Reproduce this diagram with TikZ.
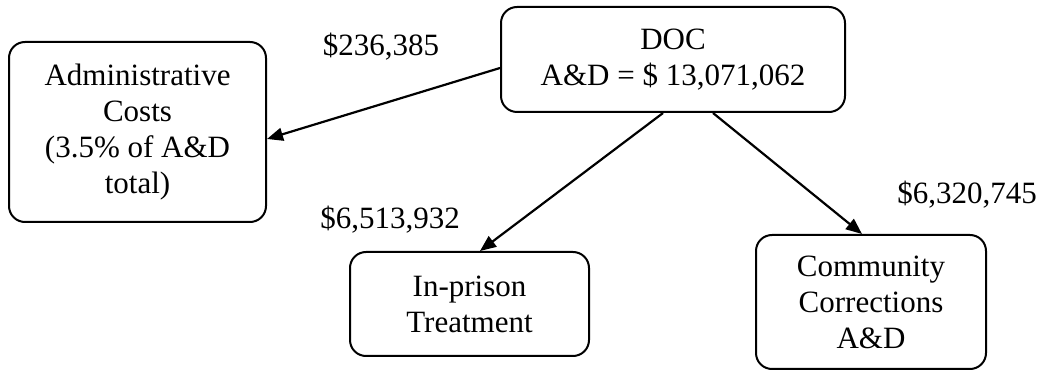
\documentclass[tikz,border=0pt]{standalone}
\usepackage{fontspec}
\setmainfont{Liberation Serif}
\usetikzlibrary{arrows.meta}
\begin{document}
\begin{tikzpicture}[x=1pt,y=-1pt,
  box/.style={draw,line width=2pt,rounded corners=16pt,align=center,inner sep=0pt,
    font=\fontsize{31}{36}\selectfont},
  lbl/.style={font=\fontsize{31}{36}\selectfont,inner sep=0pt},
  conn/.style={line width=2.2pt,-{Triangle[length=16pt,width=13pt]}}]
\useasboundingbox (0,0) rectangle (1053,371);
\node[box,minimum width=257pt,minimum height=180pt] (admin) at (137.5,132)
  {Administrative\\Costs\\(3.5\% of A\&D\\total)};
\node[box,minimum width=344pt,minimum height=105pt] (doc) at (673,59.5)
  {DOC\\A\&D = \$ 13,071,062};
\node[box,minimum width=239pt,minimum height=104pt] (prison) at (469.5,304)
  {In-prison\\Treatment};
\node[box,minimum width=230pt,minimum height=134pt] (comm) at (871,302)
  {Community\\Corrections\\A\&D};
\node[lbl] (l1) at (381,47) {\$236,385};
\node[lbl] (l2) at (390,220) {\$6,513,932};
\node[lbl] (l3) at (967,195) {\$6,320,745};
\draw[conn] ([yshift=-8.5pt]doc.west) -- ([yshift=-7pt]admin.east);
\draw[conn] ([xshift=-10pt]doc.south) -- ([xshift=10.5pt]prison.north);
\draw[conn] ([xshift=40pt]doc.south) -- ([xshift=-9pt]comm.north);
\end{tikzpicture}
\end{document}
